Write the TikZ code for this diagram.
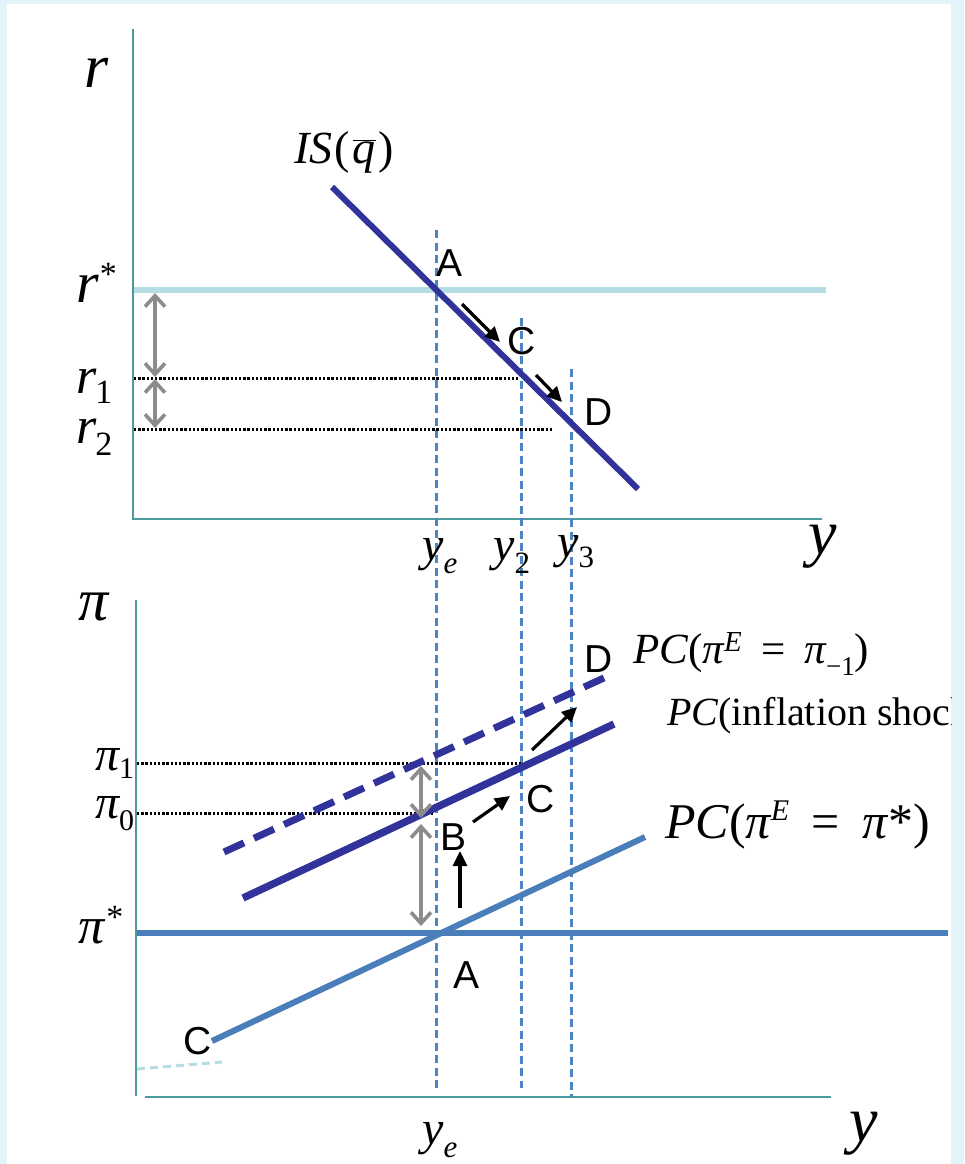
\documentclass[tikz,border=0pt]{standalone}
\usepackage{fontspec}
\setmainfont{Liberation Serif}
\newfontfamily\sansf{Liberation Sans}
\usetikzlibrary{arrows.meta}
\definecolor{bgc}{HTML}{E4F3F8}
\definecolor{axisc}{HTML}{4B9B9E}
\definecolor{dashc}{HTML}{4C84C4}
\definecolor{rstarc}{HTML}{B5DEE2}
\definecolor{darkb}{HTML}{31339B}
\definecolor{midb}{HTML}{4A7EBB}
\definecolor{grayc}{HTML}{8C8C8C}
\newcommand\fs[1]{\fontsize{#1}{#1}\selectfont}
\newcommand\up[3]{\raisebox{#1}{\fs{#2}#3}}
\tikzset{
  axis/.style={draw=axisc, line width=2pt},
  vdash/.style={draw=dashc, line width=3pt, dash pattern=on 8pt off 4.5pt},
  dotl/.style={draw=black, line width=3pt, dash pattern=on 2.4pt off 1.8pt},
  garrow/.style={draw=grayc, line width=3.6pt, {Straight Barb[length=11pt,width=20pt]}-{Straight Barb[length=11pt,width=20pt]}},
  barrow/.style={draw=black, line width=3.2pt, -{Triangle[length=15pt,width=14pt]}},
  lbl/.style={inner sep=0pt, anchor=base west},
  ptl/.style={inner sep=0pt, anchor=base west, font={\sansf\fs{39}}},
}
\begin{document}
\begin{tikzpicture}[x=1pt,y=-1pt]
\useasboundingbox (0,0) rectangle (964,1164);
\fill[bgc] (0,0) rectangle (964,1164);
\fill[white] (7,4) rectangle (951,1164);
\begin{scope}
\clip (7,4) rectangle (951,1164);
% axes
\draw[axis] (133,29) -- (133,519) -- (822,519);
\draw[axis] (136,600) -- (136,1096);
\draw[axis] (145,1097) -- (831,1097);
% vertical dashed guides
\draw[vdash] (436,230) -- (436,1092);
\draw[vdash] (521,318) -- (521,1088);
\draw[vdash] (571,369) -- (571,1097);
% dotted level lines
\draw[dotl] (134,378) -- (518,378);
\draw[dotl] (134,429) -- (553,429);
\draw[dotl] (137,763) -- (521,763);
\draw[dotl] (137,813) -- (434,813);
% r* line and IS curve
\draw[line width=5.6pt, rstarc] (134,290) -- (826,290);
\draw[line width=6pt, darkb] (332,187) -- (638,489);
% pi* line and PC curves
\draw[line width=5.2pt, midb] (137,933) -- (948,933);
\draw[line width=7pt, darkb, dash pattern=on 22pt off 11pt] (224,852) -- (606,677);
\draw[line width=7.4pt, darkb] (243,898) -- (614,724);
\draw[line width=6pt, midb] (212,1041) -- (645,837);
\draw[line width=3pt, rstarc, dash pattern=on 8pt off 5pt] (137,1069) -- (222,1062);
% gray double arrows
\draw[garrow] (155,293) -- (155,377);
\draw[garrow] (155,379) -- (155,428);
\draw[garrow] (421,766) -- (421,818);
\draw[garrow] (421,824) -- (421,926);
% black arrows
\draw[barrow] (462,304) -- (500,342);
\draw[barrow] (536,375) -- (562,402);
\draw[barrow] (460,908) -- (460,851);
\draw[barrow] (473,822) -- (510,796);
\draw[barrow] (532,750) -- (577,707);
% axis labels
\node[lbl] (rlab) at (84,87) {\fs{62}\itshape r};
\node[lbl] (rstar) at (76,302) {\fs{58}\itshape r\upshape\kern1pt\up{17pt}{34}{*}};
\node[lbl] (rone) at (76,393) {\fs{52}\itshape r\upshape\kern-1pt\up{-10pt}{34}{1}};
\node[lbl] (rtwo) at (76,443) {\fs{52}\itshape r\upshape\kern-1pt\up{-12pt}{34}{2}};
\node[lbl] (islab) at (294,163) {\fs{46}\itshape IS\upshape\kern2pt(\kern3pt$\overline{\mbox{\itshape q}}$\kern3pt)};
\node[lbl] (yetop) at (422,560) {\fs{48}\itshape y\up{-13pt}{31}{e}};
\node[lbl] (ytwo) at (493,560) {\fs{48}\itshape y\upshape\up{-13pt}{31}{2}};
\node[lbl] (ythree) at (557,557) {\fs{48}\itshape y\upshape\up{-10pt}{31}{3}};
\node[lbl] (ytop) at (808,554) {\fs{64}\itshape y};
\node[lbl] (pilab) at (78,620) {\fs{60}\itshape π};
\node[lbl] (pione) at (95,770) {\fs{48}\itshape π\upshape\up{-8pt}{30}{1}};
\node[lbl] (pizero) at (95,818) {\fs{48}\itshape π\upshape\up{-12pt}{30}{0}};
\node[lbl] (pistar) at (78,943) {\fs{52}\itshape π\upshape\kern2pt\up{15pt}{34}{*}};
\node[lbl] (yebot) at (422,1144) {\fs{48}\itshape y\up{-13pt}{31}{e}};
\node[lbl] (ybot) at (849,1141) {\fs{64}\itshape y};
% curve labels
\node[lbl] (pcone) at (633,663) {\fs{43}\itshape PC\upshape(\itshape π\up{12pt}{29}{E}\upshape\hspace{0.45em}=\hspace{0.45em}\itshape π\upshape\up{-12pt}{27}{−1})};
\node[lbl] (pctwo) at (667,725) {\fs{40}\itshape PC\upshape(inflation shock)};
\node[lbl] (pcthree) at (665,838) {\fs{50}\itshape PC\upshape(\itshape π\up{18pt}{30}{E}\upshape\hspace{0.45em}=\hspace{0.45em}\itshape π\upshape\kern1pt*)};
% point labels
\node[ptl] (Atop) at (436,276) {A};
\node[ptl] (Ctop) at (507,354) {C};
\node[ptl] (Dtop) at (584,425) {D};
\node[ptl] (Dbot) at (584,672) {D};
\node[ptl] (Cbot) at (526,812) {C};
\node[ptl] (Bbot) at (440,850) {B};
\node[ptl] (Abot) at (453,988) {A};
\node[ptl] (Cleft) at (183,1054) {C};
\end{scope}
\end{tikzpicture}
\end{document}
